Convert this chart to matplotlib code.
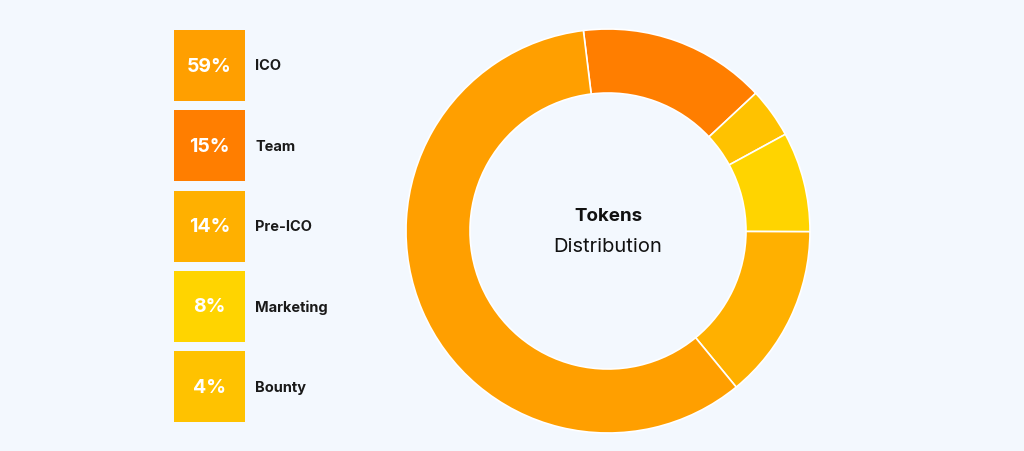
import matplotlib.pyplot as plt
from matplotlib.patches import Rectangle

# data
labels = ['ICO', 'Team', 'Pre-ICO', 'Marketing', 'Bounty']
shares = [59, 15, 14, 8, 4]
colors = ['#FF9F00', '#FF7E00', '#FFB000', '#FFD400', '#FFC200']

# pie order clockwise from top
pie_order = ['Team', 'Bounty', 'Marketing', 'Pre-ICO', 'ICO']

bg = '#F3F8FE'
font = 'Inter'
fig = plt.figure(figsize=(10.24, 4.52), dpi=100, facecolor=bg)
ax = fig.add_axes([0, 0, 1, 1])
ax.set_facecolor(bg)

# donut
vals = [shares[labels.index(n)] for n in pie_order]
cols = [colors[labels.index(n)] for n in pie_order]
ax.pie(vals, colors=cols, startangle=97, counterclock=False,
       center=(608, 220), radius=202, frame=True,
       wedgeprops=dict(width=64, edgecolor='white', linewidth=1.2))
ax.set_xlim(0, 1024)
ax.set_ylim(0, 452)
ax.set_aspect('equal')
ax.axis('off')

ax.text(608, 235, 'Tokens', ha='center', va='center', fontsize=13.5,
        fontweight='bold', family=font, color='#111111')
ax.text(608, 205, 'Distribution', ha='center', va='center', fontsize=14.5,
        family=font, color='#111111')

# legend boxes
for i, (lab, s, c) in enumerate(zip(labels, shares, colors)):
    top = 452 - 31 - i * 80.3
    ax.add_patch(Rectangle((174, top - 71), 71, 71, facecolor=c, edgecolor='none'))
    ax.text(209.5, top - 35.5, f'{s}%', ha='center', va='center', color='white',
            fontsize=14, fontweight='bold', family=font)
    ax.text(255, top - 35.5, lab, ha='left', va='center', color='#1a1a1a',
            fontsize=10.5, fontweight='bold', family=font)

fig.savefig('out.png', dpi=100, facecolor=bg)
